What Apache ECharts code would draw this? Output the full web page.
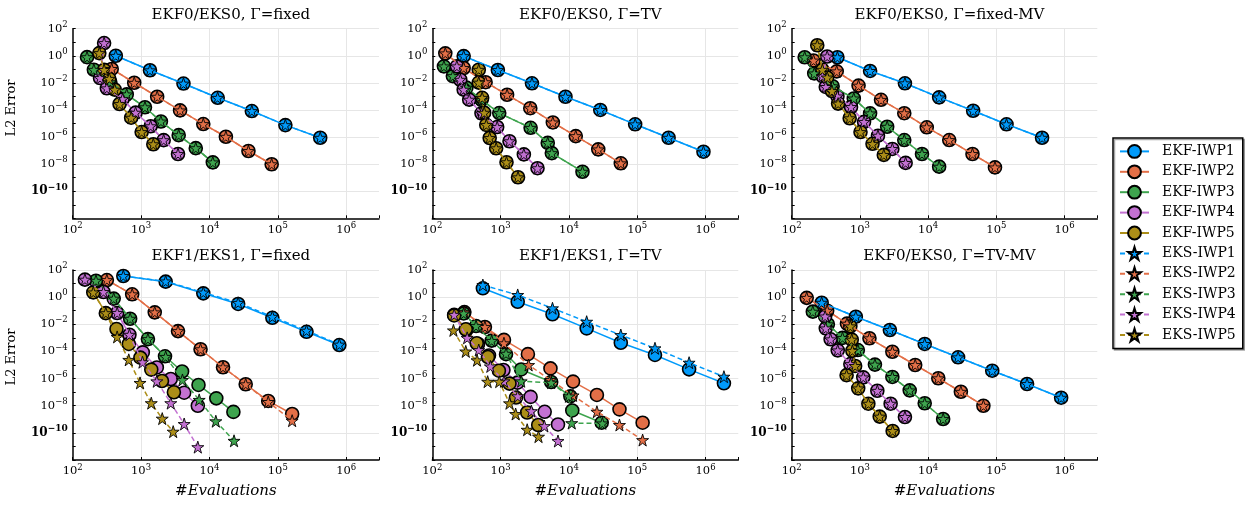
<!doctype html>
<html>
<head>
<meta charset="utf-8">
<title>EKF/EKS work-precision</title>
<script src="https://cdn.jsdelivr.net/npm/echarts@6.0.0/dist/echarts.min.js"></script>
<style>
  html, body { margin: 0; padding: 0; background: #fff; }
  #chart { width: 1247px; height: 506px; }
</style>
</head>
<body>
<div id="chart"></div>
<script>
// [#evaluations, L2 error], one array per curve

// EKF0/EKS0, Γ=fixed
var p1_ekf1 = [[427, 1.0], [1350, 8.5e-2], [4170, 8.9e-3], [13200, 7.9e-4], [41700, 8.3e-5], [129000, 7.6e-6], [417000, 8.9e-7]];
var p1_ekf2 = [[372, 1.07e-1], [794, 1.02e-2], [1720, 9.5e-4], [3720, 9.3e-5], [8130, 9.1e-6], [17400, 1.05e-6], [37200, 9.3e-8], [81300, 9.8e-9]];
var p1_ekf3 = [[162, 7.9e-1], [204, 9.3e-2], [355, 1.12e-2], [617, 1.41e-3], [1140, 1.58e-4], [1950, 1.41e-5], [3550, 1.38e-6], [6310, 1.51e-7], [11200, 1.35e-8]];
var p1_ekf4 = [[288, 8.7], [251, 2.29e-2], [316, 3.98e-3], [537, 6.3e-4], [832, 6.3e-5], [1380, 6.3e-6], [2140, 5.9e-7], [3470, 5.6e-8]];
var p1_ekf5 = [[245, 1.58], [288, 9.1e-2], [343, 2.0e-2], [412, 3.16e-3], [484, 2.75e-4], [716, 2.69e-5], [1020, 2.34e-6], [1510, 2.95e-7]];
var p1_eks1 = p1_ekf1, p1_eks2 = p1_ekf2, p1_eks3 = p1_ekf3, p1_eks4 = p1_ekf4, p1_eks5 = p1_ekf5;

// EKF0/EKS0, Γ=TV
var p2_ekf1 = [[288, 9.5e-1], [912, 8.9e-2], [2880, 9.3e-3], [8910, 9.5e-4], [28800, 1.0e-4], [93300, 8.7e-6], [288000, 8.9e-7], [933000, 8.3e-8]];
var p2_ekf2 = [[155, 1.51], [288, 1.26e-1], [603, 1.12e-2], [1245, 1.32e-3], [2720, 1.35e-4], [5820, 1.2e-5], [12600, 1.17e-6], [26900, 1.23e-7], [57500, 1.15e-8]];
var p2_ekf3 = [[148, 1.66e-1], [200, 3.16e-2], [316, 4.47e-3], [525, 5.6e-4], [955, 5.9e-5], [2750, 4.8e-6], [4900, 3.7e-7], [5620, 6.5e-8], [15800, 2.75e-9]];
var p2_ekf4 = [[229, 1.66e-1], [257, 1.7e-2], [288, 3.16e-3], [347, 5.75e-4], [525, 5.6e-5], [891, 5.5e-6], [1350, 4.9e-7], [2190, 5.25e-8], [3470, 5.0e-9]];
var p2_ekf5 = [[479, 9.3e-2], [479, 1.05e-2], [537, 7.9e-4], [575, 6.3e-5], [617, 7.9e-6], [692, 8.5e-7], [861, 1.48e-7], [1220, 1.38e-8], [1800, 1.07e-9]];
var p2_eks1 = p2_ekf1, p2_eks2 = p2_ekf2, p2_eks3 = p2_ekf3, p2_eks4 = p2_ekf4, p2_eks5 = p2_ekf5;

// EKF0/EKS0, Γ=fixed-MV
var p3_ekf1 = [[468, 7.8e-1], [1410, 7.6e-2], [4570, 9.3e-3], [14500, 8.5e-4], [45700, 8.7e-5], [141000, 8.7e-6], [468000, 8.9e-7]];
var p3_ekf2 = [[209, 4.47e-1], [457, 7.1e-2], [955, 6.3e-3], [2040, 5.6e-4], [4470, 5.75e-5], [9550, 5.25e-6], [20400, 6.0e-7], [44700, 5.6e-8], [95500, 5.75e-9]];
var p3_ekf3 = [[155, 7.8e-1], [214, 5.0e-2], [398, 5.6e-3], [813, 7.1e-4], [1410, 5.6e-5], [2510, 5.75e-6], [4470, 6.0e-7], [8130, 5.6e-8], [14500, 6.5e-9]];
var p3_ekf4 = [[331, 8.9e-1], [282, 3.16e-2], [316, 5.0e-3], [468, 1.0e-3], [741, 1.66e-4], [1150, 1.32e-5], [1840, 1.26e-6], [2990, 1.32e-7], [4680, 1.23e-8]];
var p3_ekf5 = [[237, 6.03], [282, 9.3e-2], [331, 2.51e-2], [389, 2.51e-3], [479, 2.95e-4], [708, 2.45e-5], [1020, 2.34e-6], [1530, 3.16e-7], [2240, 4.8e-8]];
var p3_eks1 = p3_ekf1, p3_eks2 = p3_ekf2, p3_eks3 = p3_ekf3, p3_eks4 = p3_ekf4, p3_eks5 = p3_ekf5;

// EKF1/EKS1, Γ=fixed
var p4_ekf1 = [[550, 36.3], [2290, 13.8], [8130, 1.91], [26300, 3.16e-1], [83200, 3.0e-2], [263000, 2.8e-3], [794000, 2.95e-4]];
var p4_eks1 = [[550, 36.3], [2290, 14.5], [8130, 2.2], [26300, 3.8e-1], [83200, 3.6e-2], [263000, 3.4e-3], [794000, 3.2e-4]];
var p4_ekf2 = [[316, 18.2], [741, 1.62], [1585, 7.6e-2], [3470, 3.16e-3], [7410, 1.45e-4], [15800, 6.8e-6], [33900, 3.8e-7], [72400, 2.24e-8], [162000, 2.45e-9]];
var p4_eks2 = [[316, 18.2], [741, 1.62], [1585, 7.6e-2], [3470, 3.16e-3], [7410, 1.45e-4], [15800, 6.8e-6], [33900, 3.8e-7], [72400, 1.9e-8], [162000, 7.9e-10]];
var p4_ekf3 = [[219, 16.2], [398, 7.8e-1], [692, 2.57e-2], [1260, 8.1e-4], [2240, 4.37e-5], [3980, 3.3e-6], [6920, 3.4e-7], [12600, 3.5e-8], [22400, 3.5e-9]];
var p4_eks3 = [[219, 16.2], [398, 7.8e-1], [692, 2.57e-2], [1260, 8.1e-4], [2290, 4.0e-5], [4030, 7.9e-7], [7080, 2.7e-8], [12400, 7.2e-10], [22900, 2.6e-11]];
var p4_ekf4 = [[151, 19.5], [282, 2.4], [447, 6.8e-2], [676, 1.7e-3], [1060, 8.5e-5], [1700, 6.6e-6], [2720, 9.3e-7], [4270, 9.1e-8], [6760, 1.0e-8]];
var p4_eks4 = [[151, 19.5], [282, 2.4], [447, 6.8e-2], [676, 1.7e-3], [1050, 1.6e-5], [1700, 6.3e-7], [2720, 1.55e-8], [4270, 4.5e-10], [6760, 8.9e-12]];
var p4_ekf5 = [[200, 2.24], [305, 6.6e-2], [437, 4.47e-3], [661, 3.55e-4], [977, 3.47e-5], [1410, 4.57e-6], [2020, 6.6e-7], [3020, 9.8e-8]];
var p4_eks5 = [[200, 2.24], [305, 6.6e-2], [447, 1.17e-3], [661, 2.4e-5], [966, 4.8e-7], [1410, 1.55e-8], [2040, 1.12e-9], [2950, 1.23e-10]];

// EKF1/EKS1, Γ=TV
var p5_ekf1 = [[550, 4.47], [1780, 4.57e-1], [5750, 5.5e-2], [18200, 5.0e-3], [57500, 4.37e-4], [182000, 5.5e-5], [575000, 4.8e-6], [1860000, 4.47e-7]];
var p5_eks1 = [[550, 7.76], [1780, 1.45], [5750, 1.51e-1], [18200, 1.55e-2], [57500, 1.62e-3], [182000, 1.7e-4], [575000, 1.48e-5], [1860000, 1.38e-6]];
var p5_ekf2 = [[295, 7.9e-2], [589, 6.3e-3], [1120, 7.1e-4], [2510, 6.3e-5], [5370, 5.6e-6], [11500, 6.0e-7], [25700, 6.2e-8], [55000, 5.4e-9], [120000, 5.6e-10]];
var p5_eks2 = [[295, 7.9e-2], [589, 6.3e-3], [1120, 4.0e-4], [2570, 1.0e-5], [5370, 7.9e-7], [11500, 5.75e-8], [25700, 3.6e-9], [55000, 3.8e-10], [120000, 2.95e-11]];
var p5_ekf3 = [[288, 6.3e-2], [437, 7.4e-3], [741, 6.3e-4], [1200, 6.3e-5], [2000, 4.7e-6], [5500, 5.6e-7], [10500, 4.9e-8], [11200, 4.47e-9], [30200, 5.6e-10]];
var p5_eks3 = [[288, 6.3e-2], [437, 7.4e-3], [741, 6.0e-4], [1200, 6.8e-5], [2000, 6.3e-7], [5500, 5.0e-7], [10000, 4.9e-8], [11000, 5.25e-10], [30900, 5.0e-10]];
var p5_ekf4 = [[209, 5.0e-2], [316, 3.98e-3], [468, 3.55e-4], [676, 5.0e-5], [1100, 4.27e-6], [1760, 5.0e-7], [2750, 4.47e-8], [4420, 3.55e-9], [6920, 4.17e-10]];
var p5_eks4 = [[209, 5.0e-2], [324, 1.0e-3], [479, 1.26e-4], [708, 7.9e-6], [1120, 6.3e-7], [1780, 5.0e-8], [2820, 4.0e-9], [4370, 3.16e-10], [6920, 2.5e-11]];
var p5_ekf5 = [[209, 4.47e-2], [309, 4.27e-3], [447, 3.98e-4], [653, 3.9e-5], [944, 3.8e-6], [1350, 4.27e-7], [1680, 3.98e-8], [2450, 3.16e-9], [3550, 3.8e-10]];
var p5_eks5 = [[204, 3.55e-3], [309, 1.0e-4], [452, 2.24e-5], [646, 5.9e-7], [955, 5.9e-7], [1350, 1.51e-8], [1660, 2.45e-9], [2450, 1.7e-10], [3590, 5.25e-11]];

// EKF0/EKS0, Γ=TV-MV
var p6_ekf1 = [[275, 3.9e-1], [871, 3.63e-2], [2750, 3.8e-3], [8910, 3.55e-4], [27500, 3.7e-5], [87100, 3.8e-6], [282000, 3.98e-7], [891000, 3.9e-8]];
var p6_ekf2 = [[166, 8.9e-1], [331, 1.0e-1], [646, 1.12e-2], [1380, 9.3e-4], [2990, 9.5e-5], [6460, 1.0e-5], [14100, 1.05e-6], [30200, 1.07e-7], [64600, 1.0e-8]];
var p6_ekf3 = [[204, 8.5e-2], [339, 1.0e-2], [556, 1.0e-3], [933, 1.26e-4], [1660, 1.07e-5], [2990, 1.32e-6], [5370, 1.35e-7], [8910, 1.51e-8], [16600, 1.05e-9]];
var p6_ekf4 = [[309, 3.8e-2], [316, 5.0e-3], [372, 7.8e-4], [473, 1.2e-4], [724, 1.17e-5], [1120, 1.23e-6], [1800, 1.26e-7], [2820, 1.41e-8], [4570, 1.48e-9]];
var p6_ekf5 = [[724, 7.1e-3], [759, 7.4e-4], [776, 1.12e-4], [851, 8.5e-6], [638, 1.78e-6], [944, 1.9e-7], [1330, 1.41e-8], [1950, 1.58e-9], [3020, 1.38e-10]];
var p6_eks1 = p6_ekf1, p6_eks2 = p6_ekf2, p6_eks3 = p6_ekf3, p6_eks4 = p6_ekf4, p6_eks5 = p6_ekf5;

var titles = ['EKF0/EKS0, Γ=fixed', 'EKF0/EKS0, Γ=TV', 'EKF0/EKS0, Γ=fixed-MV',
              'EKF1/EKS1, Γ=fixed', 'EKF1/EKS1, Γ=TV', 'EKF0/EKS0, Γ=TV-MV'];
var ekfNames = ['EKF-IWP1', 'EKF-IWP2', 'EKF-IWP3', 'EKF-IWP4', 'EKF-IWP5'];
var eksNames = ['EKS-IWP1', 'EKS-IWP2', 'EKS-IWP3', 'EKS-IWP4', 'EKS-IWP5'];
var xTicksExp = [2, 6.48];     // 10^2 .. ~3e6 evaluations
var yTicksExp = [-12, 2];      // 10^-12 .. 10^2

var ekfData = [
  [p1_ekf1, p1_ekf2, p1_ekf3, p1_ekf4, p1_ekf5],
  [p2_ekf1, p2_ekf2, p2_ekf3, p2_ekf4, p2_ekf5],
  [p3_ekf1, p3_ekf2, p3_ekf3, p3_ekf4, p3_ekf5],
  [p4_ekf1, p4_ekf2, p4_ekf3, p4_ekf4, p4_ekf5],
  [p5_ekf1, p5_ekf2, p5_ekf3, p5_ekf4, p5_ekf5],
  [p6_ekf1, p6_ekf2, p6_ekf3, p6_ekf4, p6_ekf5]
];
var eksData = [
  [p1_eks1, p1_eks2, p1_eks3, p1_eks4, p1_eks5],
  [p2_eks1, p2_eks2, p2_eks3, p2_eks4, p2_eks5],
  [p3_eks1, p3_eks2, p3_eks3, p3_eks4, p3_eks5],
  [p4_eks1, p4_eks2, p4_eks3, p4_eks4, p4_eks5],
  [p5_eks1, p5_eks2, p5_eks3, p5_eks4, p5_eks5],
  [p6_eks1, p6_eks2, p6_eks3, p6_eks4, p6_eks5]
];

var colors = ['#009AFA', '#E36F47', '#3EA44E', '#C371D2', '#AC8E18'];
var serif = '"DejaVu Serif", "Liberation Serif", serif';
var star = 'path://M50,2 L61.2,36.3 L97.6,36.3 L68.2,57.6 L79.4,92 L50,70.7 L20.6,92 L31.8,57.6 L2.4,36.3 L38.8,36.3 Z';

// plot boxes [left, top, width, height]
var boxes = [
  [72.7, 28.7, 306.3, 189.6], [432.3, 28.7, 306, 189.6], [791.7, 28.7, 305.6, 189.6],
  [72.7, 270, 306.3, 190], [432.3, 270, 306, 190], [791.7, 270, 305.6, 190]
];

function toLog(arr) {
  return arr.map(function (p) { return [Math.log10(p[0]), Math.log10(p[1])]; });
}

function powLabel(v) {
  if (Math.abs(v - Math.round(v)) > 1e-6) return '';
  var e = Math.round(v);
  var t = e < 0 ? '\u2212' + (-e) : String(e);
  if (e === -10) return '{bb|10}{bs|' + t + '}';
  return '{b|10}{s|' + t + '}';
}

var rich = {
  b: { fontFamily: serif, fontSize: 11.5, lineHeight: 17, color: '#000' },
  s: { fontFamily: serif, fontSize: 8.5, verticalAlign: 'top', color: '#000' },
  bb: { fontFamily: serif, fontSize: 12, fontWeight: 'bold', lineHeight: 17, color: '#000' },
  bs: { fontFamily: serif, fontSize: 9, fontWeight: 'bold', verticalAlign: 'top', color: '#000' }
};

var grids = [], xAxes = [], yAxes = [], series = [], titleOpts = [];

boxes.forEach(function (b, i) {
  grids.push({ left: b[0], top: b[1], width: b[2], height: b[3], containLabel: false });
  titleOpts.push({
    text: titles[i], left: b[0] + b[2] / 2, top: i < 3 ? 3 : 244, textAlign: 'center',
    textStyle: { fontFamily: serif, fontSize: 15, fontWeight: 'normal', color: '#000' }
  });
  xAxes.push({
    gridIndex: i, type: 'value', min: xTicksExp[0], max: xTicksExp[1], interval: 1,
    name: i >= 3 ? '#Evaluations' : '', nameLocation: 'middle', nameGap: 24,
    nameTextStyle: { fontFamily: serif, fontSize: 15, fontStyle: 'italic', color: '#000' },
    axisLine: { show: true, onZero: false, lineStyle: { color: '#000', width: 1.5 } },
    axisTick: { show: true, inside: true, length: 3, lineStyle: { color: '#000' } },
    axisLabel: { margin: 3, formatter: powLabel, rich: rich },
    splitLine: { show: true, showMinLine: false, showMaxLine: false, lineStyle: { color: '#e6e6e6', width: 1 } }
  });
  yAxes.push({
    gridIndex: i, type: 'value', min: yTicksExp[0], max: yTicksExp[1], interval: 2,
    axisLine: { show: true, onZero: false, lineStyle: { color: '#000', width: 1.5 } },
    axisTick: { show: true, inside: true, length: 3, lineStyle: { color: '#000' } },
    minorTick: { show: true, splitNumber: 2, length: 3, lineStyle: { color: '#000' } },
    axisLabel: {
      margin: 5,
      formatter: function (v) { return v <= yTicksExp[0] ? '' : powLabel(v); },
      rich: rich
    },
    splitLine: { show: true, showMinLine: false, lineStyle: { color: '#e6e6e6', width: 1 } }
  });

  ekfData[i].forEach(function (arr, k) {
    series.push({
      name: ekfNames[k], type: 'line', xAxisIndex: i, yAxisIndex: i,
      data: toLog(arr), symbol: 'circle', symbolSize: 13, showAllSymbol: true,
      lineStyle: { color: colors[k], width: 1.5 },
      itemStyle: { color: colors[k], borderColor: '#000', borderWidth: 1.6 },
      z: 2, silent: true, animation: false
    });
  });
  eksData[i].forEach(function (arr, k) {
    series.push({
      name: eksNames[k], type: 'line', xAxisIndex: i, yAxisIndex: i,
      data: toLog(arr), symbol: star, symbolSize: 12, showAllSymbol: true,
      lineStyle: { color: colors[k], width: 1.5, type: [5, 3] },
      itemStyle: { color: colors[k], borderColor: '#000', borderWidth: 0.9 },
      z: 3, silent: true, animation: false
    });
  });
});

var chart = echarts.init(document.getElementById('chart'), null, { renderer: 'canvas' });
chart.setOption({
  backgroundColor: '#fff',
  animation: false,
  title: titleOpts,
  grid: grids,
  xAxis: xAxes,
  yAxis: yAxes,
  legend: {
    orient: 'vertical', left: 1113, top: 138,
    padding: [6, 7, 6, 6], itemWidth: 29, itemHeight: 16, itemGap: 5.6,
    borderColor: '#000', borderWidth: 1.5, backgroundColor: '#fff',
    shadowColor: 'rgba(0,0,0,0.35)', shadowOffsetX: 1.5, shadowOffsetY: 1.5, shadowBlur: 0,
    selectedMode: false,
    textStyle: { fontFamily: serif, fontSize: 14, color: '#000', padding: [0, 0, 0, 8] },
    data: ekfNames.concat(eksNames)
  },
  graphic: [
    { type: 'text', x: 12, y: 108, rotation: Math.PI / 2,
      style: { text: 'L2 Error', font: '13px "DejaVu Serif"', fill: '#000', textAlign: 'center', textVerticalAlign: 'middle' } },
    { type: 'text', x: 12, y: 357, rotation: Math.PI / 2,
      style: { text: 'L2 Error', font: '13px "DejaVu Serif"', fill: '#000', textAlign: 'center', textVerticalAlign: 'middle' } }
  ],
  series: series
});
</script>
</body>
</html>
